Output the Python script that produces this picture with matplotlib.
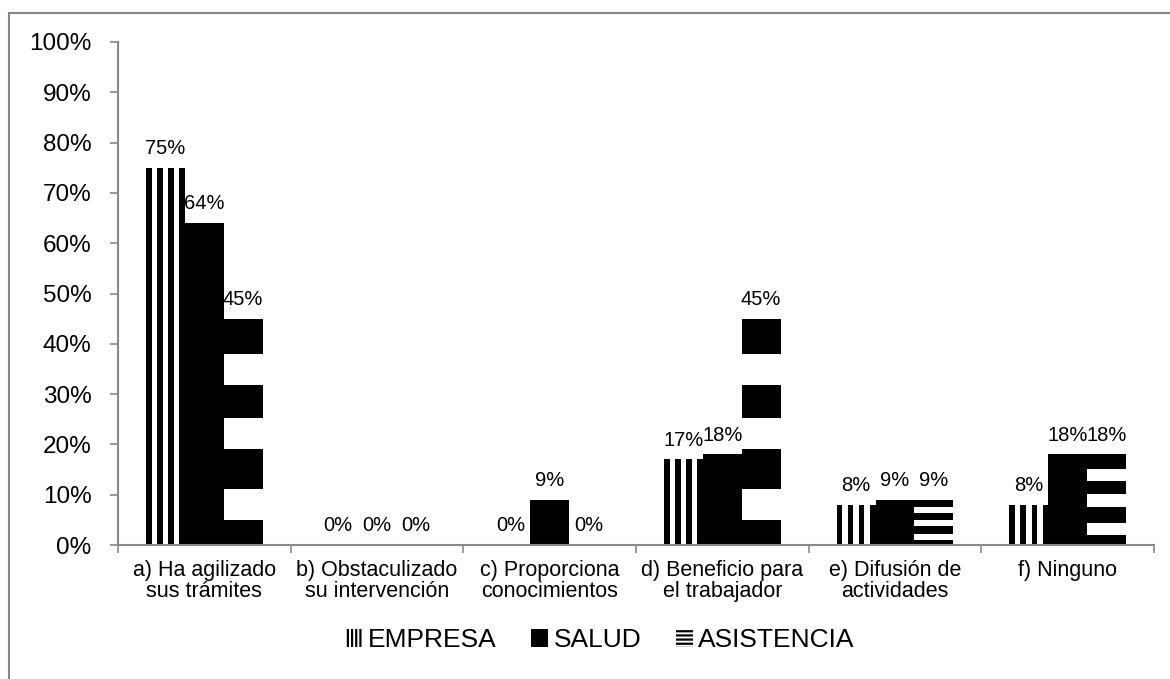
import matplotlib
matplotlib.use("Agg")
import matplotlib.pyplot as plt
from matplotlib.patches import Patch
from matplotlib.lines import Line2D
import numpy as np

plt.rcParams['font.family'] = ['Liberation Sans', 'DejaVu Sans']
plt.rcParams['hatch.color'] = 'black'
plt.rcParams['hatch.linewidth'] = 1.6

categories = ["a) Ha agilizado\nsus trámites", "b) Obstaculizado\nsu intervención",
              "c) Proporciona\nconocimientos", "d) Beneficio para\nel trabajador",
              "e) Difusión de\nactividades", "f) Ninguno"]
series = ["EMPRESA", "SALUD", "ASISTENCIA"]
empresa = [75, 0, 0, 17, 8, 8]
salud = [64, 0, 9, 18, 9, 18]
asistencia = [45, 0, 0, 45, 9, 18]
yticks = [0, 10, 20, 30, 40, 50, 60, 70, 80, 90, 100]

W, H = 1170, 679
fig = plt.figure(figsize=(W / 100, H / 100), dpi=100)
ax = fig.add_axes([118 / W, 1 - 545 / H, (1154 - 118) / W, (545 - 42) / H])

x = np.arange(len(categories))
w = 0.225
grey = '#888888'

# EMPRESA: vertical stripes (black base + white stripes across the width)
ax.bar(x - w, empresa, width=w, color='black', linewidth=0)
for k in (1, 3, 5):
    ax.bar(x - w - w / 2 + w * k / 7, empresa, width=w / 7, align='edge',
           color='white', linewidth=0)

# SALUD: solid black
ax.bar(x, salud, width=w, color='black', linewidth=0)

# ASISTENCIA: horizontal stripes stretched to each bar's height
asis = np.array(asistencia, dtype=float)
ax.bar(x + w, asis, width=w, color='black', linewidth=0)
for f0, f1 in ((0.112, 0.246), (0.424, 0.562), (0.705, 0.844)):
    ax.bar(x + w, asis * (f1 - f0), bottom=asis * f0, width=w,
           color='white', linewidth=0)

# data labels
for off, vals in ((-w, empresa), (0, salud), (w, asistencia)):
    for xi, v in zip(x, vals):
        ax.annotate(f"{v}%", (xi + off, v), xytext=(0, 7), textcoords='offset points',
                    ha='center', va='bottom', fontsize=14.5)

ax.set_xlim(-0.5, len(categories) - 0.5)
ax.set_ylim(0, 100)
ax.set_yticks(yticks)
ax.set_yticklabels([f"{t}%" for t in yticks], fontsize=17.5)
ax.set_xticks(x)
ax.set_xticklabels(categories, fontsize=15.5, linespacing=1.0)
ax.set_xticks(np.arange(len(categories) + 1) - 0.5, minor=True)
ax.tick_params(axis='x', which='major', length=0, pad=11)
ax.tick_params(axis='x', which='minor', length=6, color=grey, width=1.2, direction='out')
ax.tick_params(axis='y', length=6, color=grey, width=1.2, direction='out', pad=13)

for s in ('top', 'right'):
    ax.spines[s].set_visible(False)
for s in ('left', 'bottom'):
    ax.spines[s].set_color(grey)
    ax.spines[s].set_linewidth(1.5)

handles = [Patch(facecolor='white', edgecolor='black', hatch='||||', linewidth=0),
           Patch(facecolor='black', edgecolor='black', linewidth=0),
           Patch(facecolor='white', edgecolor='black', hatch='----', linewidth=0)]
fig.legend(handles, series, loc='center', bbox_to_anchor=(600 / W, 1 - 640 / H),
           ncol=3, frameon=False, fontsize=19, handlelength=0.65, handleheight=0.65,
           handletextpad=0.2, columnspacing=1.3)

# outer chart border (top and left visible)
fig.add_artist(Line2D([9 / W, 1.0], [1 - 13 / H, 1 - 13 / H], color=grey, linewidth=1.5,
                      transform=fig.transFigure))
fig.add_artist(Line2D([9 / W, 9 / W], [1 - 13 / H, 0.0], color=grey, linewidth=1.5,
                      transform=fig.transFigure))

fig.savefig("out.png", dpi=100)
